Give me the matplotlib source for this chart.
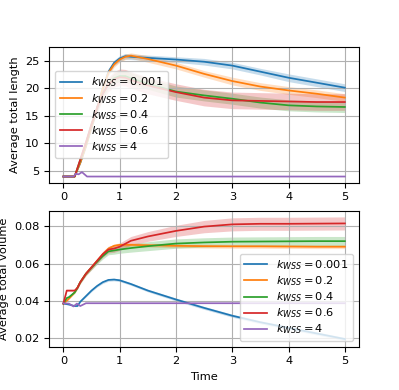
import matplotlib
matplotlib.use("Agg")
import matplotlib.pyplot as plt
import numpy as np

plt.rcParams["font.size"] = 8.2
plt.rcParams["lines.linewidth"] = 1.25

labels = [r"$k_{WSS} = 0.001$", r"$k_{WSS} = 0.2$", r"$k_{WSS} = 0.4$",
          r"$k_{WSS} = 0.6$", r"$k_{WSS} = 4$"]

# --- average total length ---
t_len = [0, 0.2, 0.3, 0.4, 0.5, 0.6, 0.7, 0.8, 0.9, 1.0, 1.1, 1.2, 1.5,
         2.0, 2.5, 3.0, 3.5, 4.0, 4.5, 5.0]
len_001 = [4, 4, 6.5, 9.5, 13, 16.5, 20, 23, 24.6, 25.4, 25.8, 25.7, 25.5,
           25.2, 24.8, 24.1, 23.0, 21.9, 21.0, 20.1]
len_02 = [4, 4, 6.5, 9.5, 13, 16.5, 20, 22.8, 24.3, 25.2, 25.7, 25.9, 25.3,
          24.1, 22.6, 21.3, 20.3, 19.6, 19.0, 18.3]
len_04 = [4, 4, 7, 10, 13.5, 16.5, 19, 20.8, 21.8, 22.2, 22.2, 21.8, 20.8,
          19.4, 18.7, 18.1, 17.4, 16.9, 16.7, 16.6]
len_06 = [4, 4, 7.1, 10.2, 13.5, 16.5, 19, 20.7, 21.6, 22.0, 21.9, 21.5, 20.5,
          19.3, 18.3, 17.8, 17.7, 17.6, 17.5, 17.5]
std_len_001 = [0, 0, 0.2, 0.3, 0.4, 0.5, 0.5, 0.5, 0.5, 0.5, 0.5, 0.5, 0.5,
               0.5, 0.6, 0.6, 0.6, 0.7, 0.7, 0.7]
std_len_02 = [0, 0, 0.2, 0.3, 0.4, 0.5, 0.5, 0.5, 0.5, 0.5, 0.5, 0.5, 0.6,
              0.6, 0.6, 0.7, 0.7, 0.7, 0.7, 0.7]
std_len_04 = [0, 0, 0.3, 0.4, 0.5, 0.6, 0.7, 0.8, 0.9, 1.0, 1.0, 1.0, 1.0,
              1.0, 1.0, 1.0, 1.0, 1.0, 1.0, 1.0]
std_len_06 = [0, 0, 0.3, 0.5, 0.7, 0.9, 1.1, 1.3, 1.4, 1.5, 1.5, 1.5, 1.5,
              1.5, 1.5, 1.5, 1.5, 1.5, 1.5, 1.5]
t_len_4 = [0, 0.18, 0.22, 0.27, 0.33, 0.42, 5.0]
len_4 = [4, 4, 4.5, 4.4, 4.8, 4.0, 4.0]

# --- average total volume ---
t_vol = [0, 0.06, 0.1, 0.2, 0.25, 0.3, 0.4, 0.5, 0.6, 0.7, 0.8, 0.9, 1.0,
         1.2, 1.5, 2.0, 2.5, 3.0, 3.5, 4.0, 4.5, 5.0]
vol_001 = [0.0385, 0.0382, 0.038, 0.0372, 0.0372, 0.0395, 0.0425, 0.0455,
           0.048, 0.050, 0.0512, 0.0514, 0.051, 0.049, 0.0455, 0.0407,
           0.0362, 0.032, 0.0285, 0.0255, 0.0225, 0.0195]
vol_02 = [0.0385, 0.040, 0.0412, 0.0445, 0.047, 0.050, 0.0545, 0.058,
          0.0615, 0.065, 0.068, 0.0695, 0.0700, 0.0700, 0.0698, 0.0695,
          0.0693, 0.0692, 0.0692, 0.0691, 0.069, 0.069]
vol_04 = [0.0385, 0.0415, 0.042, 0.0445, 0.047, 0.050, 0.0545, 0.0578,
          0.061, 0.064, 0.0665, 0.067, 0.0675, 0.0683, 0.0693, 0.0707,
          0.0713, 0.0717, 0.0718, 0.0719, 0.072, 0.072]
vol_06 = [0.0385, 0.0455, 0.0455, 0.0455, 0.047, 0.050, 0.0545, 0.058,
          0.0615, 0.065, 0.0675, 0.068, 0.069, 0.0722, 0.0745, 0.0775,
          0.0798, 0.081, 0.0813, 0.0813, 0.0814, 0.0815]
std_vol_001 = [0, 0.0002, 0.0002, 0.0003, 0.0003, 0.0004, 0.0005, 0.0006,
               0.0006, 0.0007, 0.0007, 0.0007, 0.0007, 0.0007, 0.0007,
               0.0008, 0.0008, 0.0008, 0.0008, 0.0008, 0.0008, 0.0008]
std_vol_02 = [0, 0.0003, 0.0003, 0.0004, 0.0005, 0.0006, 0.0007, 0.0008,
              0.0009, 0.001, 0.001, 0.001, 0.001, 0.001, 0.001, 0.001,
              0.001, 0.001, 0.001, 0.001, 0.001, 0.001]
std_vol_04 = [0, 0.0004, 0.0005, 0.0006, 0.0007, 0.0008, 0.001, 0.0012,
              0.0014, 0.0016, 0.0018, 0.002, 0.002, 0.0022, 0.0024, 0.0025,
              0.0025, 0.0025, 0.0025, 0.0025, 0.0025, 0.0025]
std_vol_06 = [0, 0.0004, 0.0005, 0.0006, 0.0007, 0.0008, 0.001, 0.0012,
              0.0014, 0.0016, 0.0018, 0.002, 0.002, 0.0023, 0.0026, 0.003,
              0.0033, 0.0035, 0.0035, 0.0035, 0.0035, 0.0035]
t_vol_4 = [0, 0.1, 0.18, 0.24, 0.3, 0.4, 5.0]
vol_4 = [0.0387, 0.0385, 0.037, 0.0385, 0.0372, 0.0387, 0.0387]


def plot_panel(ax, t, series, stds, t4, s4):
    for i, (y, s) in enumerate(zip(series, stds)):
        y = np.array(y)
        s = np.array(s)
        ax.plot(t, y, color="C%d" % i, label=labels[i])
        ax.fill_between(t, y - s, y + s, color="C%d" % i, alpha=0.25, lw=0)
    ax.plot(t4, s4, color="C4", label=labels[4])
    ax.grid(True)


fig = plt.figure(figsize=(3.99, 3.9), dpi=100)
ax1 = fig.add_axes([0.1236, 0.5315, 0.776, 0.3487])
ax2 = fig.add_axes([0.1236, 0.111, 0.776, 0.3487])

plot_panel(ax1, t_len, [len_001, len_02, len_04, len_06],
           [std_len_001, std_len_02, std_len_04, std_len_06], t_len_4, len_4)
ax1.set_ylabel("Average total length")
ax1.set_yticks([5, 10, 15, 20, 25])
ax1.legend(loc="center left", labelspacing=0.2)

plot_panel(ax2, t_vol, [vol_001, vol_02, vol_04, vol_06],
           [std_vol_001, std_vol_02, std_vol_04, std_vol_06], t_vol_4, vol_4)
ax2.set_ylabel("Average total volume")
ax2.set_xlabel("Time")
ax2.set_yticks([0.02, 0.04, 0.06, 0.08])
ax2.legend(loc="lower right", labelspacing=0.2)

fig.savefig("out.png", dpi=100)
